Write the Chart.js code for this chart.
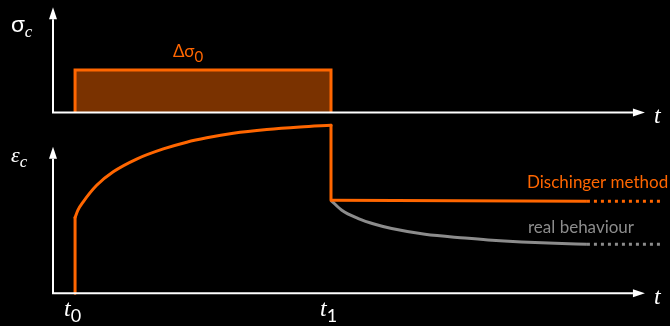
<!DOCTYPE html>
<html>
<head>
<meta charset="utf-8">
<script src="https://cdn.jsdelivr.net/npm/chart.js@4.4.1/dist/chart.umd.min.js"></script>
<style>
  html, body { margin: 0; padding: 0; background: #000; }
  canvas { display: block; }
</style>
</head>
<body>
<canvas id="c" width="670" height="326"></canvas>
<script>
// ---- data (time in arbitrary units, t0 = 1, t1 = 12.6) ----
const tickValues = [1, 12.6];
const tickMain = ['t', 't'];
const tickSubs = ['0', '1'];

// stress history (sigma_c)
const stressT = [1, 1, 12.6, 12.6];
const stressV = [0, 1, 1, 0];

// creep strain under load
const riseT = [1, 1];
const riseE = [0, 1.01];
const creepT = [1, 1.13, 1.37, 1.98, 2.73, 3.79, 5.0, 6.06, 6.97, 8.17, 9.69, 11.2, 12.6];
const creepE = [1.01, 1.11, 1.22, 1.44, 1.62, 1.79, 1.925, 2.015, 2.073, 2.133, 2.183, 2.217, 2.24];
const dropT = [12.6, 12.6];
const dropE = [2.24, 1.24];

// after unloading: Dischinger method
const dischT = [12.6, 24.2];
const dischE = [1.24, 1.227];
const dischDotT = [24.2, 27.6];
const dischDotE = [1.227, 1.227];

// after unloading: real behaviour
const realT = [12.6, 13.09, 13.84, 14.59, 15.35, 16.86, 18.67, 19.72, 21.24, 22.75, 24.2];
const realE = [1.24, 1.107, 0.996, 0.92, 0.863, 0.787, 0.737, 0.712, 0.685, 0.666, 0.655];
const realDotT = [24.2, 27.6];
const realDotE = [0.655, 0.655];

const xAxisEnd = 26.83;
const sigAxisEnd = 2.475;
const epsAxisEnd = 1.955;

const ORANGE = '#ff6600';
const BROWN = '#7a3200';
const GREY = '#8c8c8c';
const WHITE = '#ffffff';

function pts(xs, ys) { return xs.map((x, i) => ({ x: x, y: ys[i] })); }

function lineDs(xs, ys, axis, color, extra) {
  return Object.assign({
    type: 'line',
    data: pts(xs, ys),
    yAxisID: axis,
    borderColor: color,
    borderWidth: 3,
    pointRadius: 0,
    tension: 0,
    fill: false,
    borderCapStyle: 'round',
    borderJoinStyle: 'miter',
    clip: false
  }, extra || {});
}

function drawArrow(ctx, x1, y1, x2, y2) {
  const ang = Math.atan2(y2 - y1, x2 - x1);
  const L = 12, W = 4;
  const bx = x2 - L * Math.cos(ang), by = y2 - L * Math.sin(ang);
  ctx.strokeStyle = WHITE;
  ctx.lineWidth = 2;
  ctx.beginPath();
  ctx.moveTo(x1, y1);
  ctx.lineTo(bx, by);
  ctx.stroke();
  ctx.fillStyle = WHITE;
  ctx.beginPath();
  ctx.moveTo(x2, y2);
  ctx.lineTo(bx - W * Math.sin(ang), by + W * Math.cos(ang));
  ctx.lineTo(bx + W * Math.sin(ang), by - W * Math.cos(ang));
  ctx.closePath();
  ctx.fill();
}

function drawSub(ctx, main, mainFont, sub, subFont, x, y, subDy, color) {
  ctx.fillStyle = color;
  ctx.textAlign = 'left';
  ctx.textBaseline = 'alphabetic';
  ctx.font = mainFont;
  ctx.fillText(main, x, y);
  const w = ctx.measureText(main).width;
  ctx.font = subFont;
  ctx.fillText(sub, x + w, y + subDy);
}

const SERIF_I = '"Liberation Serif", "DejaVu Serif", serif';
const SANS = 'Lato, "Open Sans", "DejaVu Sans", sans-serif';

const decor = {
  id: 'decor',
  beforeDraw(chart) {
    const ctx = chart.ctx;
    ctx.save();
    ctx.fillStyle = '#000';
    ctx.fillRect(0, 0, chart.width, chart.height);
    ctx.restore();
  },
  afterDatasetsDraw(chart) {
    const ctx = chart.ctx;
    const x = chart.scales.x, yS = chart.scales.yS, yE = chart.scales.yE;
    ctx.save();
    const x0 = x.getPixelForValue(0);
    // top panel axes
    drawArrow(ctx, x0, yS.getPixelForValue(0), x0, yS.getPixelForValue(sigAxisEnd));
    drawArrow(ctx, x0 - 1, yS.getPixelForValue(0), x.getPixelForValue(xAxisEnd), yS.getPixelForValue(0));
    // bottom panel axes
    drawArrow(ctx, x0, yE.getPixelForValue(0), x0, yE.getPixelForValue(epsAxisEnd));
    drawArrow(ctx, x0 - 1, yE.getPixelForValue(0), x.getPixelForValue(xAxisEnd), yE.getPixelForValue(0));

    // axis titles
    drawSub(ctx, 'σ', '23px ' + SANS, 'c', 'italic 17px ' + SERIF_I, 11, 32, 5, WHITE);
    drawSub(ctx, 'ε', 'italic 22px ' + SERIF_I, 'c', 'italic 17px ' + SERIF_I, 11, 162, 5, WHITE);
    ctx.font = 'italic 24px ' + SERIF_I;
    ctx.fillStyle = WHITE;
    ctx.fillText('t', 654, yS.getPixelForValue(0) + 10);
    ctx.fillText('t', 654, yE.getPixelForValue(0) + 11);

    // time tick labels
    tickValues.forEach((v, i) => {
      const px = x.getPixelForValue(v);
      drawSub(ctx, tickMain[i], 'italic 24px ' + SERIF_I, tickSubs[i], '18px ' + SANS, px - 11, 316, 6, WHITE);
    });

    // annotations
    drawSub(ctx, 'Δσ', '17px ' + SANS, '0', '15px ' + SANS, 173, 57, 5, ORANGE);
    ctx.font = '17px ' + SANS;
    ctx.fillStyle = ORANGE;
    ctx.fillText('Dischinger method', 527, 188);
    ctx.font = '17px ' + SANS;
    ctx.fillStyle = GREY;
    ctx.fillText('real behaviour', 528, 233);
    ctx.restore();
  }
};

new Chart(document.getElementById('c'), {
  type: 'line',
  data: {
    datasets: [
      lineDs(stressT, stressV, 'yS', ORANGE, { fill: 'origin', backgroundColor: BROWN, order: 5, borderCapStyle: 'butt' }),
      lineDs(riseT, riseE, 'yE', ORANGE, { order: 1 }),
      lineDs(creepT, creepE, 'yE', ORANGE, { cubicInterpolationMode: 'monotone', order: 1 }),
      lineDs(dropT, dropE, 'yE', ORANGE, { order: 1 }),
      lineDs(dischT, dischE, 'yE', ORANGE, { order: 1, borderCapStyle: 'butt' }),
      lineDs(dischDotT, dischDotE, 'yE', ORANGE, { order: 1, borderDash: [3, 4], borderCapStyle: 'butt' }),
      lineDs(realT, realE, 'yE', GREY, { cubicInterpolationMode: 'monotone', order: 3, borderCapStyle: 'butt' }),
      lineDs(realDotT, realDotE, 'yE', GREY, { order: 3, borderDash: [3, 4], borderCapStyle: 'butt' })
    ]
  },
  options: {
    responsive: false,
    animation: false,
    layout: { padding: 0 },
    plugins: { legend: { display: false }, tooltip: { enabled: false } },
    scales: {
      x: { type: 'linear', display: false, min: -53 / 22.063, max: 617 / 22.063 },
      yS: { type: 'linear', display: false, min: -213.5 / 42.5, max: 112.5 / 42.5 },
      yE: { type: 'linear', display: false, min: -32.7 / 75, max: 293.3 / 75 }
    }
  },
  plugins: [decor]
});
</script>
</body>
</html>
